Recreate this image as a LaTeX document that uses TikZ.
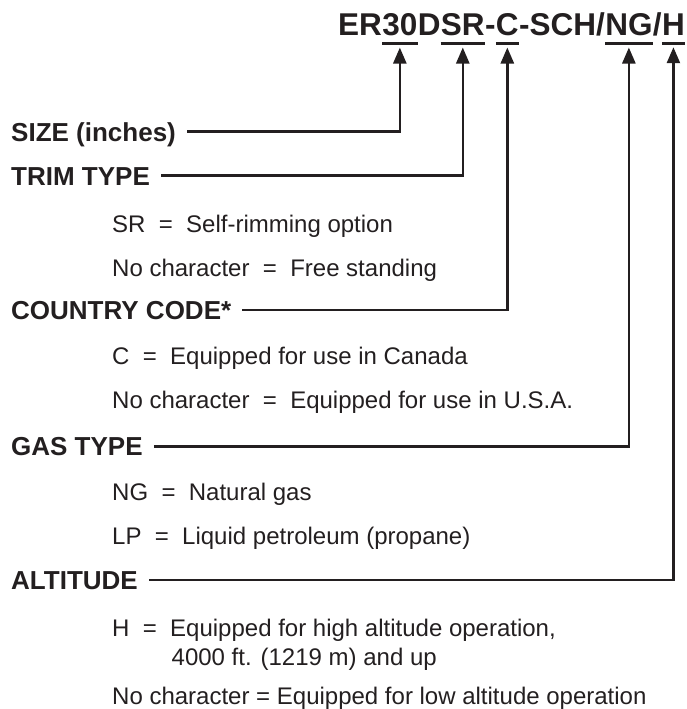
\documentclass[tikz,border=0pt]{standalone}
\usepackage{fontspec}
\setmainfont{Liberation Sans}
\usetikzlibrary{arrows.meta}
\definecolor{ink}{HTML}{231F20}
\tikzset{
  partno/.style={font=\fontsize{31.5}{36}\selectfont\bfseries, inner sep=0pt, text=ink, anchor=base east},
  heading/.style={font=\fontsize{26}{30}\selectfont\bfseries, inner sep=0pt, text height=18.6pt, text depth=0pt, anchor=base west, text=ink},
  option/.style={font=\fontsize{24}{28}\selectfont, inner sep=0pt, anchor=base west, text=ink},
  underbar/.style={line width=2.7pt, draw=ink},
  leader/.style={line width=2.5pt, draw=ink, -{Triangle[length=16pt,width=13pt]}, shorten <=11pt, shorten >=11pt},
}
\begin{document}
\begin{tikzpicture}[x=1pt,y=-1pt]
\useasboundingbox (0,0) rectangle (686,709);
\node[partno] (pH) at (685,36) {H};
\node[partno] (sl2) at (pH.base west) {/};
\node[partno] (pNG) at (sl2.base west) {NG};
\node[partno] (mid) at (pNG.base west) {-SCH/};
\node[partno] (pC) at (mid.base west) {C};
\node[partno] (dash) at (pC.base west) {-};
\node[partno] (pSR) at (dash.base west) {SR};
\node[partno] (pD) at (pSR.base west) {D};
\node[partno] (p30) at (pD.base west) {30};
\node[partno] (pER) at (p30.base west) {ER};
\foreach \p in {p30,pSR,pC,pNG,pH}
  \draw[underbar] ([yshift=-7pt]\p.south west) -- ([yshift=-7pt]\p.south east);
\node[heading] (size) at (11,141) {SIZE (inches)};
\node[heading] (trim) at (11,185) {TRIM TYPE};
\node[option] (srdesc) at (112,232) {SR~~=~~Self-rimming option};
\node[option] (fsdesc) at (112,276) {No character~~=~~Free standing};
\node[heading] (country) at (11,319.3) {COUNTRY CODE*};
\node[option] (cadesc) at (112,364) {C~~=~~Equipped for use in Canada};
\node[option] (usdesc) at (112,408) {No character~~=~~Equipped for use in U.S.A.};
\node[heading] (gas) at (11,455.7) {GAS TYPE};
\node[option] (ngdesc) at (112,500) {NG~~=~~Natural gas};
\node[option] (lpdesc) at (112,544) {LP~~=~~Liquid petroleum (propane)};
\node[heading] (alt) at (11,589.3) {ALTITUDE};
\node[option] (hidesc) at (112,636) {H~~=~~Equipped for high altitude operation,};
\node[option] (hidesc2) at (171.5,665) {4000 ft. (1219 m) and up};
\node[option] (lodesc) at (112,704) {No character = Equipped for low altitude operation};
\draw[leader] (size.east) -| (p30.south);
\draw[leader] (trim.east) -| (pSR.south);
\draw[leader] (country.east) -| (pC.south);
\draw[leader] (gas.east) -| (pNG.south);
\draw[leader] (alt.east) -| (pH.south);
\end{tikzpicture}
\end{document}
